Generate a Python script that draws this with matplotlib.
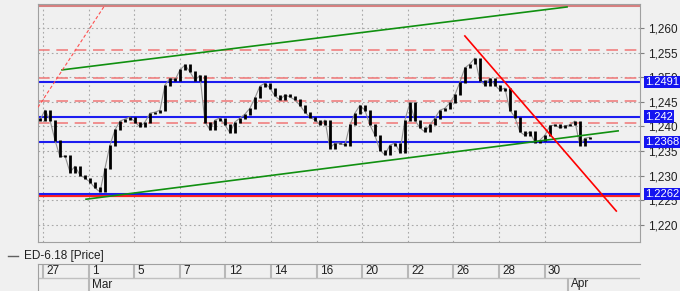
import numpy as np
import matplotlib
matplotlib.use('Agg')
import matplotlib.pyplot as plt
from matplotlib.lines import Line2D
from matplotlib.transforms import blended_transform_factory

plt.rcParams['font.family'] = ['Liberation Sans', 'DejaVu Sans']

# 종가 (약 반나절 간격으로 읽은 값)
closes = [1.2413, 1.2433, 1.2413, 1.2372, 1.2338, 1.2340, 1.2307, 1.2319, 1.2301, 1.2295,
          1.2287, 1.2275, 1.2267, 1.2315, 1.2362, 1.2393, 1.2411, 1.2415, 1.2419, 1.2409,
          1.2399, 1.2409, 1.2427, 1.2429, 1.2433, 1.2484, 1.2498, 1.2494, 1.2515, 1.2525,
          1.2511, 1.2494, 1.2504, 1.2409, 1.2393, 1.2413, 1.2417, 1.2403, 1.2387, 1.2409,
          1.2417, 1.2425, 1.2437, 1.2458, 1.2482, 1.2488, 1.2478, 1.2462, 1.2454, 1.2464,
          1.2460, 1.2454, 1.2443, 1.2429, 1.2419, 1.2413, 1.2403, 1.2413, 1.2356, 1.2366,
          1.2366, 1.2362, 1.2403, 1.2427, 1.2443, 1.2433, 1.2403, 1.2382, 1.2352, 1.2342,
          1.2362, 1.2366, 1.2348, 1.2413, 1.2448, 1.2413, 1.2397, 1.2389, 1.2403, 1.2417,
          1.2433, 1.2437, 1.2448, 1.2464, 1.2490, 1.2519, 1.2527, 1.2539, 1.2494, 1.2484,
          1.2498, 1.2484, 1.2474, 1.2478, 1.2433, 1.2419, 1.2389, 1.2382, 1.2389, 1.2368,
          1.2372, 1.2382, 1.2401, 1.2403, 1.2397, 1.2401, 1.2403, 1.2411, 1.2362, 1.2376,
          1.2378]

day_labels = ['27', '1', '5', '7', '12', '14', '16', '20', '22', '26', '28', '30']
month_labels = ['Mar', 'Apr']
yticks = [1.220, 1.225, 1.230, 1.235, 1.240, 1.245, 1.250, 1.255, 1.260]

blue_levels = [1.2491, 1.2420, 1.2368, 1.2262]
blue_texts = ['1.2491', '1.242', '1.2368', '1.2262']
dashed_levels = [1.2555, 1.2498, 1.2452, 1.2406]
red_low = 1.2258
top_level = 1.2647

# 추세선 (x: 날짜 눈금 단위, y: 가격)
upper_green_x, upper_green_y = [0.417, 11.49], [1.2515, 1.2643]
lower_green_x, lower_green_y = [0.943, 12.61], [1.2252, 1.2391]
red_fan_x, red_fan_y = [-0.11, 1.36], [1.2439, 1.2647]
red_down_x, red_down_y = [9.25, 12.57], [1.2584, 1.2228]

bg = '#f0f0f0'
fig = plt.figure(figsize=(6.8, 2.91), dpi=100, facecolor=bg)
ax = fig.add_axes([38/680, 1 - 242/291, 602/680, 238/291])
ax.set_facecolor(bg)
ax.set_xlim(-0.11, 13.09)
ax.set_ylim(1.2165, 1.2649)

ax.yaxis.tick_right()
ax.set_yticks(yticks)
ax.set_yticklabels([f'{v:.3f}'.replace('.', ',') for v in yticks])
ax.tick_params(axis='y', length=3, color='#808080', labelsize=8.5, pad=3, labelcolor='#202020')
ax.set_xticks(range(len(day_labels)))
ax.tick_params(axis='x', length=0, labelbottom=False)
ax.grid(color='#a8a8a8', linestyle=(0, (1.5, 2.5)), linewidth=0.8)
for s in ax.spines.values():
    s.set_color('#a0a0a0')

# 수평선
for lv in dashed_levels:
    ax.axhline(lv, color='#f08080', lw=1.2, dashes=(7, 4), zorder=2)
ax.axhline(top_level, color='#d88080', lw=2.2, zorder=2)
ax.axhline(red_low, color='#ff2020', lw=1.6, zorder=2)
for lv in blue_levels:
    ax.axhline(lv, color='#1c1cf0', lw=1.5, zorder=2)

# 캔들
xs = -0.066 + np.arange(len(closes)) * 0.1096
opens = np.r_[closes[0] + 0.0004, closes[:-1]]
cl = np.array(closes)
lo = np.minimum(opens, cl) - 0.0001
hi = np.maximum(opens, cl) + 0.0001
ax.plot(xs, cl, color='#909090', lw=0.8, zorder=3)
ax.vlines(xs, lo, hi, color='black', lw=2, zorder=3)

# 추세선
ax.plot(upper_green_x, upper_green_y, color='#109010', lw=1.2, zorder=4)
ax.plot(lower_green_x, lower_green_y, color='#109010', lw=1.2, zorder=4)
ax.plot(red_fan_x, red_fan_y, color='#ff5050', lw=0.8, dashes=(3, 2), zorder=4)
ax.plot(red_down_x, red_down_y, color='#ff0000', lw=1.2, zorder=4)

# 오른쪽 가격 라벨
tr = blended_transform_factory(ax.transAxes, ax.transData)
for lv, t in zip(blue_levels, blue_texts):
    ax.text(1.008, lv, t, transform=tr, ha='left', va='center', fontsize=8, color='white',
            bbox=dict(boxstyle='square,pad=0.1', fc='#1414f0', ec='none'), clip_on=False, zorder=6)

# 범례
fig.add_artist(Line2D([8/680, 18/680], [1 - 256/291] * 2, color='#606060', lw=1))
fig.text(24/680, 1 - 256/291, 'ED-6.18 [Price]', fontsize=8.5, va='center', color='#202020')

# 날짜 축
ax2 = fig.add_axes([38/680, 0, 602/680, 27/291])
ax2.set_facecolor(bg)
ax2.set_xlim(ax.get_xlim())
ax2.set_ylim(0, 27)
ax2.set_xticks([])
ax2.set_yticks([])
for k, s in ax2.spines.items():
    s.set_color('#a0a0a0')
ax2.spines['bottom'].set_visible(False)
ax2.spines['right'].set_visible(False)
ax2.axhline(13.5, color='#c0c0c0', lw=1)
for k, lab in enumerate(day_labels):
    ax2.vlines(k, 13.5, 27, color='#b8b8b8', lw=1.5)
    ax2.text(k + 0.07, 20.3, lab, fontsize=8.5, va='center', ha='left', color='#202020')
for pos, lab in zip([1, 11.51], month_labels):
    ax2.vlines(pos, 0, 13.5, color='#b8b8b8', lw=1.5)
    ax2.text(pos + 0.07, 6.5, lab, fontsize=8.5, va='center', ha='left', color='#202020')

fig.savefig('out.png', dpi=100, facecolor=bg)
